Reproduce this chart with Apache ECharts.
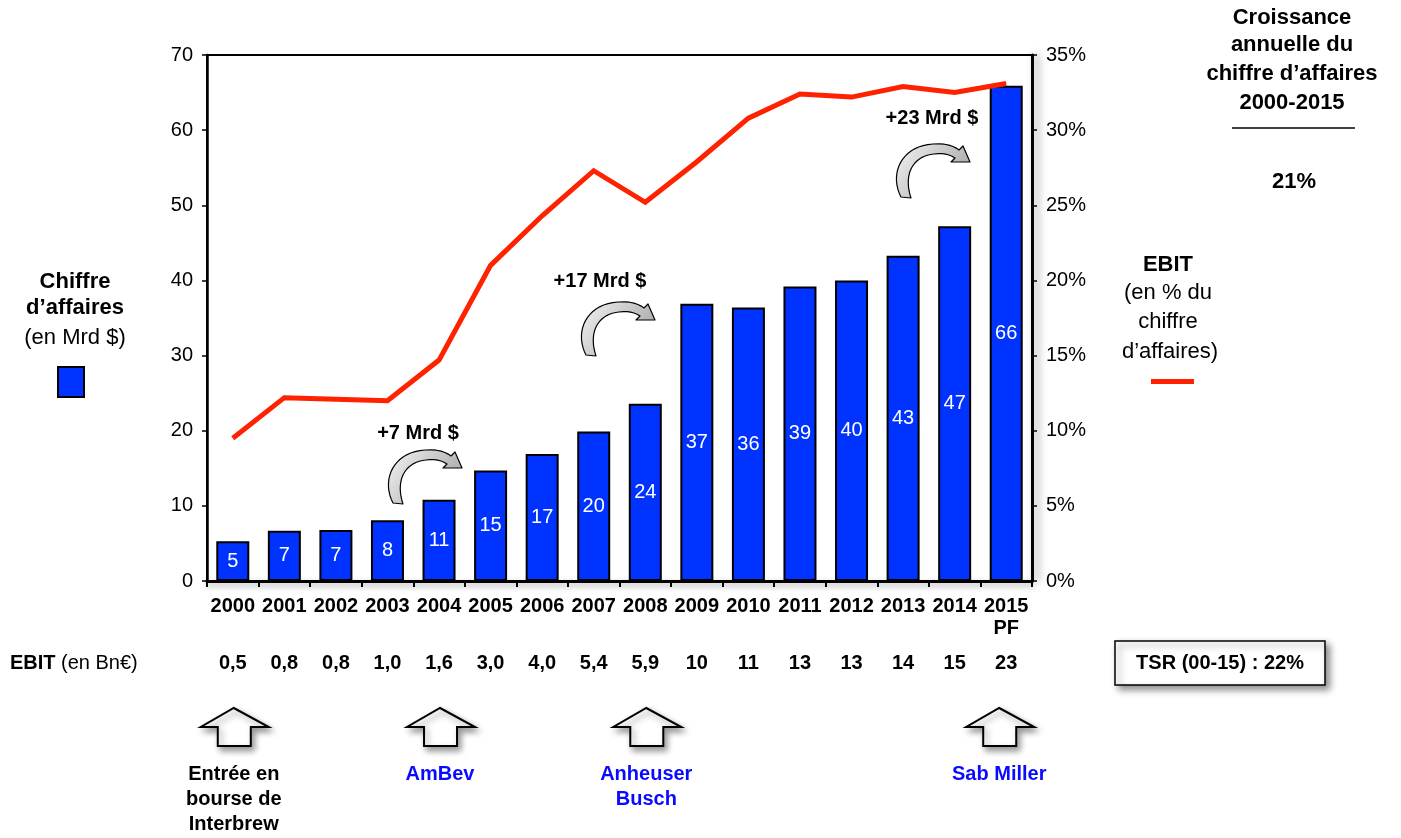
<!DOCTYPE html>
<html>
<head>
<meta charset="utf-8">
<script src="https://cdn.jsdelivr.net/npm/echarts@6/dist/echarts.min.js"></script>
<style>
html,body{margin:0;padding:0;background:#fff;}
#c{width:1401px;height:838px;}
</style>
</head>
<body>
<div id="c"></div>
<script>
// ---- data ----
const categories = ['2000','2001','2002','2003','2004','2005','2006','2007','2008','2009','2010','2011','2012','2013','2014','2015\nPF'];
const revenue = [5.3, 6.7, 6.8, 8.1, 10.8, 14.7, 16.9, 19.9, 23.6, 36.9, 36.4, 39.2, 40.0, 43.3, 47.2, 65.9];
const revenueLabels = ['5','7','7','8','11','15','17','20','24','37','36','39','40','43','47','66'];
const ebitMargin = [9.5, 12.2, 12.1, 12.0, 14.7, 21.0, 24.3, 27.3, 25.2, 27.9, 30.8, 32.4, 32.2, 32.9, 32.5, 33.1];
const ebitBn = ['0,5','0,8','0,8','1,0','1,6','3,0','4,0','5,4','5,9','10','11','13','13','14','15','23'];
const leftTicks = [0, 70, 10];   // min, max, interval
const rightTicks = [0, 35, 5];
const events = [
  {idx: 0, text: 'Entrée en\nbourse de\nInterbrew', color: '#000000'},
  {idx: 4, text: 'AmBev', color: '#0a0aff'},
  {idx: 8, text: 'Anheuser\nBusch', color: '#0a0aff'},
  {idx: 15, text: 'Sab Miller', color: '#0a0aff'}
];
const acquisitions = [
  {text: '+7 Mrd $', tx: 418, ty: 433, ax: 380, ay: 440},
  {text: '+17 Mrd $', tx: 600, ty: 281, ax: 573, ay: 292},
  {text: '+23 Mrd $', tx: 932, ty: 118, ax: 888, ay: 134}
];

const FONT = '"Liberation Sans", Arial, Helvetica, sans-serif';
const BLUE = '#0033ff';
const RED = '#ff2200';

const chart = echarts.init(document.getElementById('c'), null, {renderer: 'canvas'});

const option = {
  animation: false,
  backgroundColor: '#ffffff',
  textStyle: {fontFamily: FONT},
  grid: {left: 207, right: 369, top: 55, bottom: 257, show: true, borderColor: '#000', borderWidth: 2},
  xAxis: [
    {
      type: 'category', data: categories, boundaryGap: true, position: 'bottom',
      axisLine: {lineStyle: {color: '#000', width: 3, shadowColor: 'rgba(0,0,0,0.35)', shadowBlur: 6, shadowOffsetY: 3}},
      axisTick: {show: true, length: 6, inside: false, lineStyle: {color: '#000', width: 2}},
      axisLabel: {color: '#000', fontSize: 20, fontWeight: 'bold', fontFamily: FONT, margin: 14, lineHeight: 22, interval: 0}
    },
    {
      type: 'category', data: ebitBn, boundaryGap: true, position: 'bottom', gridIndex: 0,
      axisLine: {show: false}, axisTick: {show: false},
      axisLabel: {color: '#000', fontSize: 20, fontWeight: 'bold', fontFamily: FONT, margin: 72, lineHeight: 20, interval: 0}
    }
  ],
  yAxis: [
    {
      type: 'value', min: leftTicks[0], max: leftTicks[1], interval: leftTicks[2], position: 'left',
      splitLine: {show: false},
      axisLine: {show: true, lineStyle: {color: '#000', width: 2.5}},
      axisTick: {show: true, length: 5, lineStyle: {color: '#000', width: 1.5}},
      axisLabel: {color: '#000', fontSize: 20, fontFamily: FONT, margin: 14}
    },
    {
      type: 'value', min: rightTicks[0], max: rightTicks[1], interval: rightTicks[2], position: 'right',
      splitLine: {show: false},
      axisLine: {show: true, lineStyle: {color: '#000', width: 3, shadowColor: 'rgba(0,0,0,0.45)', shadowBlur: 8, shadowOffsetX: 4}},
      axisTick: {show: true, length: 5, lineStyle: {color: '#000', width: 1.5}},
      axisLabel: {color: '#000', fontSize: 20, fontFamily: FONT, margin: 14, formatter: '{value}%'}
    }
  ],
  series: [
    {
      type: 'bar', xAxisIndex: 0, yAxisIndex: 0, data: revenue, barWidth: 33,
      itemStyle: {color: BLUE, borderColor: '#000', borderWidth: 2},
      label: {
        show: true, position: 'inside', color: '#fff', fontSize: 20, fontFamily: FONT,
        formatter: p => revenueLabels[p.dataIndex]
      },
      z: 2
    },
    {
      type: 'line', xAxisIndex: 0, yAxisIndex: 1, data: ebitMargin, symbol: 'none',
      lineStyle: {color: RED, width: 5, join: 'miter'}, z: 3
    }
  ]
};
chart.setOption(option);

// ---- decorative shapes (local coordinates) ----
function cubic(p0, p1, p2, p3, n) {
  const out = [];
  for (let i = 1; i <= n; i++) {
    const t = i / n, u = 1 - t;
    out.push([
      u*u*u*p0[0] + 3*u*u*t*p1[0] + 3*u*t*t*p2[0] + t*t*t*p3[0],
      u*u*u*p0[1] + 3*u*u*t*p1[1] + 3*u*t*t*p2[1] + t*t*t*p3[1]
    ]);
  }
  return out;
}
function curvedArrow(ox, oy) {
  let pts = [[13, 63]];
  pts = pts.concat(cubic([13, 63], [1, 40], [13, 12], [45, 10], 18));
  pts = pts.concat(cubic([45, 10], [58, 9], [66, 12], [71, 16], 6));
  pts.push([75, 12], [82, 28], [63, 28], [67, 24]);
  pts = pts.concat(cubic([67, 24], [61, 20], [55, 19], [46, 20], 6));
  pts = pts.concat(cubic([46, 20], [25, 22], [15, 40], [23, 64], 18));
  return pts.map(p => [p[0] + ox, p[1] + oy]);
}
function upArrow(x, y) {
  const rel = [[0, 0], [35, 19], [17, 19], [17, 38], [-16, 38], [-16, 19], [-33, 19]];
  return rel.map(p => [p[0] + x, p[1] + y]);
}

const grayGrad = {type: 'linear', x: 0, y: 0, x2: 1, y2: 1,
  colorStops: [{offset: 0, color: '#f4f4f4'}, {offset: 1, color: '#9a9a9a'}], global: false};

const g = [];
function txt(x, y, text, font, fill, align) {
  g.push({type: 'text', x: x, y: y, style: {text: text, font: font, fill: fill || '#000', textAlign: align || 'center', textVerticalAlign: 'middle'}});
}
// left legend text
txt(75, 282, 'Chiffre', 'bold 22px ' + FONT);
txt(75, 308, 'd\u2019affaires', 'bold 22px ' + FONT);
txt(75, 338, '(en Mrd $)', '22px ' + FONT);
g.push({type: 'rect', shape: {x: 58, y: 367, width: 26, height: 30}, style: {fill: BLUE, stroke: '#000', lineWidth: 2}});
// right legend text
txt(1168, 265, 'EBIT', 'bold 22px ' + FONT);
txt(1168, 293, '(en % du', '22px ' + FONT);
txt(1168, 322, 'chiffre', '22px ' + FONT);
txt(1170, 352, 'd\u2019affaires)', '22px ' + FONT);
g.push({type: 'rect', shape: {x: 1151, y: 379, width: 43, height: 5}, style: {fill: RED}});
// top-right growth box
const growthLines = ['Croissance', 'annuelle du', 'chiffre d\u2019affaires', '2000-2015'];
const growthY = [18, 45, 74, 103];
growthLines.forEach((t, i) => txt(1292, growthY[i], t, 'bold 22px ' + FONT));
g.push({type: 'line', shape: {x1: 1232, y1: 128, x2: 1355, y2: 128}, style: {stroke: '#000', lineWidth: 1.5}});
txt(1294, 182, '21%', 'bold 22px ' + FONT);
// EBIT row label
txt(10, 663, 'EBIT', 'bold 20px ' + FONT, '#000', 'left');
txt(61, 663, '(en Bn\u20ac)', '20px ' + FONT, '#000', 'left');
// TSR box
g.push({type: 'rect', shape: {x: 1115, y: 641, width: 210, height: 44},
  style: {fill: '#fff', stroke: '#000', lineWidth: 1.5, shadowColor: 'rgba(0,0,0,0.45)', shadowBlur: 7, shadowOffsetX: 4, shadowOffsetY: 4}});
txt(1220, 663, 'TSR (00-15) : 22%', 'bold 20px ' + FONT);
// acquisition annotations
acquisitions.forEach(a => {
  txt(a.tx, a.ty, a.text, 'bold 20px ' + FONT);
  g.push({type: 'polygon', shape: {points: curvedArrow(a.ax, a.ay)},
    style: {fill: grayGrad, stroke: '#000', lineWidth: 1.2, lineJoin: 'round'}, z: 10});
});
// event arrows and labels at category positions
events.forEach(e => {
  const px = chart.convertToPixel({xAxisIndex: 0}, e.idx);
  const x = e.idx === 15 ? px - 7 : px + 1;
  g.push({type: 'polygon', shape: {points: upArrow(x, 708)},
    style: {fill: '#fff', stroke: '#000', lineWidth: 2, shadowColor: 'rgba(0,0,0,0.4)', shadowBlur: 6, shadowOffsetX: 3, shadowOffsetY: 4}});
  const lines = e.text.split('\n');
  lines.forEach((l, i) => txt(x, 774 + i * 25, l, 'bold 20px ' + FONT, e.color));
});

chart.setOption({graphic: g});
</script>
</body>
</html>
